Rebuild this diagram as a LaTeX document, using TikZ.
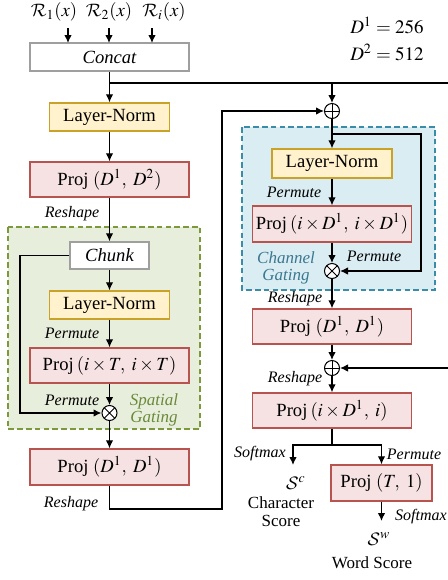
\documentclass[tikz,border=0pt]{standalone}
\usepackage{mathptmx}
\DeclareMathAlphabet{\mathcal}{OMS}{cmsy}{m}{n}
\usepackage{fontspec}
\setmainfont{Liberation Serif}
\usepackage{xcolor}
\usetikzlibrary{arrows.meta}
\definecolor{lnfill}{HTML}{FFF2CC}
\definecolor{lndraw}{HTML}{C9A227}
\definecolor{pjfill}{HTML}{F6E2E2}
\definecolor{pjdraw}{HTML}{B85450}
\definecolor{spfill}{HTML}{E8EEDC}
\definecolor{spdraw}{HTML}{7C9A3B}
\definecolor{sptext}{HTML}{6A8A3A}
\definecolor{chfill}{HTML}{DAEDF3}
\definecolor{chdraw}{HTML}{3B8CA7}
\definecolor{chtext}{HTML}{3A7890}
\tikzset{
  arr/.style={line width=0.65pt,-{Latex[length=4pt,width=3.8pt]}},
  ln/.style={line width=0.65pt},
  box/.style={draw=gray!75,fill=white,line width=0.7pt,inner sep=0pt,font=\fontsize{9.3}{11}\selectfont\itshape},
  lnm/.style={draw=lndraw,fill=lnfill,line width=0.7pt,minimum width=60pt,minimum height=14pt,inner sep=0pt,font=\fontsize{9.3}{11}\selectfont},
  prj/.style={draw=pjdraw,fill=pjfill,line width=0.7pt,minimum width=79.5pt,minimum height=17.5pt,inner sep=0pt,font=\fontsize{9.3}{11}\selectfont},
  op/.style={draw,circle,fill=white,minimum size=7.5pt,inner sep=0pt,line width=0.5pt},
  oplus/.style={op,path picture={\draw[line width=0.45pt] (path picture bounding box.north) -- (path picture bounding box.south) (path picture bounding box.west) -- (path picture bounding box.east);}},
  otimes/.style={op,path picture={\draw[line width=0.45pt] (path picture bounding box.north west) -- (path picture bounding box.south east) (path picture bounding box.south west) -- (path picture bounding box.north east);}},
  lbl/.style={font=\fontsize{8}{9}\selectfont\itshape,inner sep=0pt},
  txt/.style={font=\fontsize{8.5}{9}\selectfont,inner sep=0pt,align=center},
  gtxt/.style={font=\fontsize{8.5}{8.5}\selectfont\itshape,inner sep=0pt,align=center},
  gate/.style={line width=0.9pt,dash pattern=on 2.8pt off 1.6pt}
}

\begin{document}
\begin{tikzpicture}[x=0.5pt,y=-0.5pt]
\useasboundingbox (0,0) rectangle (448,580);
\clip (0,0) rectangle (448,580);
% gating regions
\draw[gate,draw=spdraw,fill=spfill] (8,227) rectangle (200,429);
\draw[gate,draw=chdraw,fill=chfill] (242,127) rectangle (435,290);
% inputs
\node[font=\fontsize{9.3}{11}\selectfont] (r1) at (54,12) {$\mathcal{R}_1(x)$};
\node[font=\fontsize{9.3}{11}\selectfont] (r2) at (109,12) {$\mathcal{R}_2(x)$};
\node[font=\fontsize{9.3}{11}\selectfont] (ri) at (164,12) {$\mathcal{R}_i(x)$};
\node[font=\fontsize{9.5}{11}\selectfont] (d1) at (387,25) {$D^1 = 256$};
\node[font=\fontsize{9.5}{11}\selectfont] (d2) at (387,52) {$D^2 = 512$};
% left column
\node[box,minimum width=79.5pt,minimum height=14pt] (concat) at (109.5,57) {Concat};
\node[lnm] (ln1) at (109.5,117) {Layer-Norm};
\node[prj] (p1) at (109.5,179.5) {Proj $(D^1,\; D^2)$};
\node[box,minimum width=39.5pt,minimum height=13.5pt] (chunk) at (109.5,255.5) {Chunk};
\node[lnm] (ln2) at (109.5,305) {Layer-Norm};
\node[prj] (p2) at (109.5,365.5) {Proj\,$(i\times T,\; i\times T)$};
\node[otimes] (m1) at (109.5,413) {};
\node[prj,minimum height=18pt] (p3) at (109.5,467) {Proj $(D^1,\; D^1)$};
% right column
\node[oplus] (a1) at (332,111) {};
\node[lnm,minimum height=14.5pt] (ln3) at (332,163.5) {Layer-Norm};
\node[prj,minimum height=18pt] (p4) at (332,224) {Proj\,$(i\times D^1,\; i\times D^1)$};
\node[otimes] (m2) at (332,271) {};
\node[prj] (p5) at (332,326.5) {Proj $(D^1,\; D^1)$};
\node[oplus] (a2) at (332,368) {};
\node[prj] (p6) at (332,410.5) {Proj\,$(i\times D^1,\; i)$};
\node[prj,minimum width=50.5pt,minimum height=18pt] (p7) at (381.5,483) {Proj $(T,\; 1)$};
\node[font=\fontsize{9.3}{11}\selectfont,inner sep=0pt] (sc) at (296,483) {$\mathcal{S}^c$};
\node[txt] (scl) at (281,511.5) {Character\\Score};
\node[font=\fontsize{9.3}{11}\selectfont,inner sep=0pt] (sw) at (379,539) {$\mathcal{S}^w$};
\node[txt] (swl) at (372,563) {Word Score};
% labels
\node[lbl] (rs1) at (72,214) {Reshape};
\node[lbl] (pm1) at (72,333) {Permute};
\node[lbl] (pm2) at (72,400) {Permute};
\node[lbl] (rs2) at (71,504) {Reshape};
\node[lbl] (pm3) at (294,192) {Permute};
\node[lbl] (pm4) at (374,256) {Permute};
\node[lbl] (rs3) at (295,299) {Reshape};
\node[lbl] (rs4) at (295,379) {Reshape};
\node[lbl] (sm1) at (260,454) {Softmax};
\node[lbl] (pm5) at (414,454) {Permute};
\node[lbl] (sm2) at (421,517) {Softmax};
\node[gtxt,text=sptext] (sg) at (154,410) {Spatial\\Gating};
\node[gtxt,text=chtext] (cg) at (286,268) {Channel\\Gating};
% helper points
\coordinate (c1) at (68,43); \coordinate (c2) at (109,43); \coordinate (c3) at (152,43);
\coordinate (br1) at (109.5,83);
\coordinate (rt) at (452,0);
\coordinate (sk1) at (20,255.5);
\coordinate (sk2) at (222,509);
\coordinate (sk3) at (421,134);
\coordinate (bl) at (293,445);
\coordinate (sct) at (293,465);
\coordinate (swt) at (381.5,521);
% connectors
\draw[arr] (r1.south -| c1) -- (c1);
\draw[arr] (r2.south -| c2) -- (c2);
\draw[arr] (ri.south -| c3) -- (c3);
\draw[arr] (concat) -- (ln1);
\draw[arr] (br1) -- (br1 -| rt) |- (a2);
\draw[arr] (br1 -| a1) -- (a1);
\draw[arr] (ln1) -- (p1);
\draw[arr] (p1) -- (chunk);
\draw[arr] (chunk) -- (ln2);
\draw[arr] (ln2) -- (p2);
\draw[arr] (p2) -- (m1);
\draw[arr] (chunk.west) -- (sk1) |- (m1);
\draw[arr] (m1) -- (p3);
\draw[arr] (p3.south) |- (sk2) |- (a1);
\draw[arr] (a1) -- (ln3);
\draw[arr] (sk3 -| a1) -- (sk3) |- (m2);
\draw[arr] (ln3) -- (p4);
\draw[arr] (p4) -- (m2);
\draw[arr] (m2) -- (p5);
\draw[arr] (p5) -- (a2);
\draw[arr] (a2) -- (p6);
\draw[arr] (p6.south) -- (p6.south |- bl) -| (sct);
\draw[arr] (p6.south |- bl) -| (p7.north);
\draw[arr] (p7.south) -- (swt);
\end{tikzpicture}
\end{document}
